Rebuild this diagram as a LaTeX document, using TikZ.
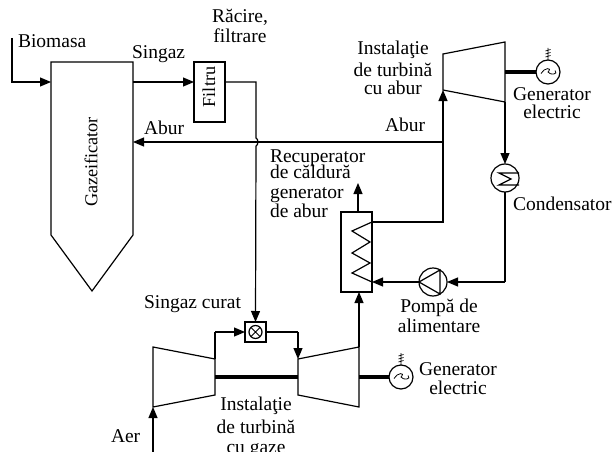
\documentclass[tikz,border=0pt]{standalone}
\usepackage{fontspec}
\setmainfont{Liberation Serif}
\usetikzlibrary{arrows.meta}
\lineskiplimit=-20pt
\tikzset{
  lin/.style={line width=1.2pt,line join=miter},
  flow/.style={lin,-{Triangle[length=11pt,width=9pt]}},
  shaft/.style={line width=4.5pt},
  equip/.style={draw,lin,fill=white,inner sep=0pt,outer sep=0pt},
  roundeq/.style={equip,circle,minimum size=#1},
  lab/.style={inner sep=0pt,outer sep=0pt,align=center,anchor=base,font=\fontsize{19.5}{16}\selectfont},
  vlab/.style={inner sep=0pt,outer sep=0pt,rotate=90,font=\fontsize{18.2}{18}\selectfont}
}
\newcommand{\groundmark}[1]{%
  \draw[line width=.7pt] (#1) ++(0,0) -- ++(0,-12)
    (#1) ++(-2.5,-3) -- ++(5,-1.5) (#1) ++(-2.5,-6) -- ++(5,-1.5) (#1) ++(-2.5,-9) -- ++(5,-1.5);}
\newcommand{\tildemark}[1]{%
  \draw[line width=.8pt] (#1) ++(-7,1.5) .. controls ++(3,-6) and ++(5,-5) .. ++(7,-1.5) .. controls ++(2,3.5) and ++(4,4) .. ++(7,-1.5);}
\begin{document}
\begin{tikzpicture}[x=1pt,y=-1pt]
\useasboundingbox (0,0) rectangle (613,452);
\clip (0,0) rectangle (613,452);
% ports
\coordinate (bio) at (12,38);
\coordinate (biok) at (12,82);
\coordinate (gasin) at (51,82);
\coordinate (gasout) at (133,82);
\coordinate (gasab) at (133,142);
\coordinate (filin) at (194,82);
\coordinate (filout) at (225,82);
\coordinate (filk) at (256,82);
\coordinate (juA) at (256,138);
\coordinate (juB) at (256,146);
\coordinate (st1) at (443,54);
\coordinate (st2) at (505,42);
\coordinate (st3) at (505,102);
\coordinate (st4) at (443,90);
\coordinate (abk) at (443,142);
\coordinate (hin) at (372,282);
\coordinate (hout) at (372,222);
\coordinate (hk) at (443,222);
\coordinate (ck) at (505,282);
\coordinate (c1) at (153,347);
\coordinate (c2) at (215,359);
\coordinate (c3) at (215,395);
\coordinate (c4) at (153,407);
\coordinate (t1) at (298,359);
\coordinate (t2) at (359,347);
\coordinate (t3) at (359,407);
\coordinate (t4) at (298,395);
\coordinate (cs) at (215,377);
\coordinate (ts) at (298,377);
\coordinate (ts2) at (359,377);
\coordinate (mk1) at (215,332);
\coordinate (mk2) at (298,332);
\coordinate (aerin) at (153,452);
\coordinate (hexh) at (358,183);
% equipment
\draw[lin] (51,62) -- (133,62) -- (133,235) -- (92,291) -- (51,235) -- cycle;
\node[equip,minimum width=31pt,minimum height=60pt] (filt) at (209.5,92) {};
\node[equip,minimum width=31pt,minimum height=80pt] (hrsg) at (356.5,252) {};
\node[equip,minimum width=21pt,minimum height=20pt] (mix) at (255.5,332) {};
\node[roundeq=13pt] (mixc) at (255.5,332) {};
\draw[line width=.9pt] (mixc.north west) -- (mixc.south east) (mixc.north east) -- (mixc.south west);
\draw[lin] (st1) -- (st2) -- (st3) -- (st4) -- cycle;
\draw[lin] (c1) -- (c2) -- (c3) -- (c4) -- cycle;
\draw[lin] (t1) -- (t2) -- (t3) -- (t4) -- cycle;
\node[roundeq=24pt] (gen1) at (548,72) {};
\node[roundeq=24pt] (gen2) at (401,377) {};
\node[roundeq=28pt] (cond) at (505,178) {};
\node[roundeq=28pt] (pump) at (433,282) {};
\draw[lin] (hout) -- (352,231) -- (370,242) -- (352,253) -- (370,263) -- (352,273) -- (hin);
\draw[lin] (519,173) -- (499,173) -- (511,179) -- (499,185) -- (519,185);
\draw[lin] (pump.west) -- (440,270) -- (440,294) -- cycle;
\tildemark{gen1}
\tildemark{gen2}
\groundmark{gen1.north}
\groundmark{gen2.north}
% shafts
\draw[shaft] (505,72) -- (gen1.west);
\draw[shaft] (cs) -- (ts);
\draw[shaft] (ts2) -- (gen2.west);
% connectors
\draw[flow] (bio) -- (biok) -- (gasin);
\draw[flow] (gasout) -- (filin);
\draw[lin] (filout) -- (filk) -- (juA) .. controls (258.5,139) and (258.5,145) .. (juB);
\draw[flow] (juB) -- (mix.north);
\draw[flow] (abk) -- (gasab);
\draw[lin] (hout) -- (hk) -- (abk);
\draw[flow] (abk) -- (st4);
\draw[flow] (st3) -- (cond.north);
\draw[lin] (cond.south) -- (ck);
\draw[flow] (ck) -- (pump.east);
\draw[flow] (pump.west) -- (hin);
\draw[flow] (hrsg.north-|hexh) -- (hexh);
\draw[flow] (t2) -- (t2|-hrsg.south);
\draw[lin] (c2) -- (mk1);
\draw[flow] (mk1) -- (mix.west);
\draw[lin] (mix.east) -- (mk2);
\draw[flow] (mk2) -- (t1);
\draw[flow] (aerin) -- (c4);
% labels
\node[lab,anchor=base west] (lbio) at (18,48) {Biomasa};
\node[lab,anchor=base west] (lsin) at (132,59) {Singaz};
\node[lab] (lrac) at (240,43) {Răcire,\\[4pt]filtrare};
\node[lab] (lins) at (393,95) {Instalaţie\\[6pt]de turbină\\[2pt]cu abur};
\node[lab,anchor=base west] (lab1) at (144,134) {Abur};
\node[lab,anchor=base west] (lab2) at (385,131) {Abur};
\node[lab] (lgen1) at (552,118) {Generator\\[2pt]electric};
\node[lab,anchor=base west] (lcond) at (513,210) {Condensator};
\node[lab,align=left,anchor=base west] (lrec) at (270,217) {Recuperator\\de căldură\\[4pt]generator\\[3pt]de abur};
\node[lab,anchor=base west] (lsc) at (144,308) {Singaz curat};
\node[lab] (lpom) at (439,332) {Pompă de\\[4pt]alimentare};
\node[lab] (lgen2) at (458,394) {Generator\\[3pt]electric};
\node[lab] (linsg) at (256,453) {Instalaţie\\[7pt]de turbină\\[4pt]cu gaze};
\node[lab,anchor=base west] (laer) at (111,442) {Aer};
\node[vlab] (lgaz) at (91,162) {Gazeificator};
\node[vlab] (lfil) at (209,87) {Filtru};
\end{tikzpicture}
\end{document}
